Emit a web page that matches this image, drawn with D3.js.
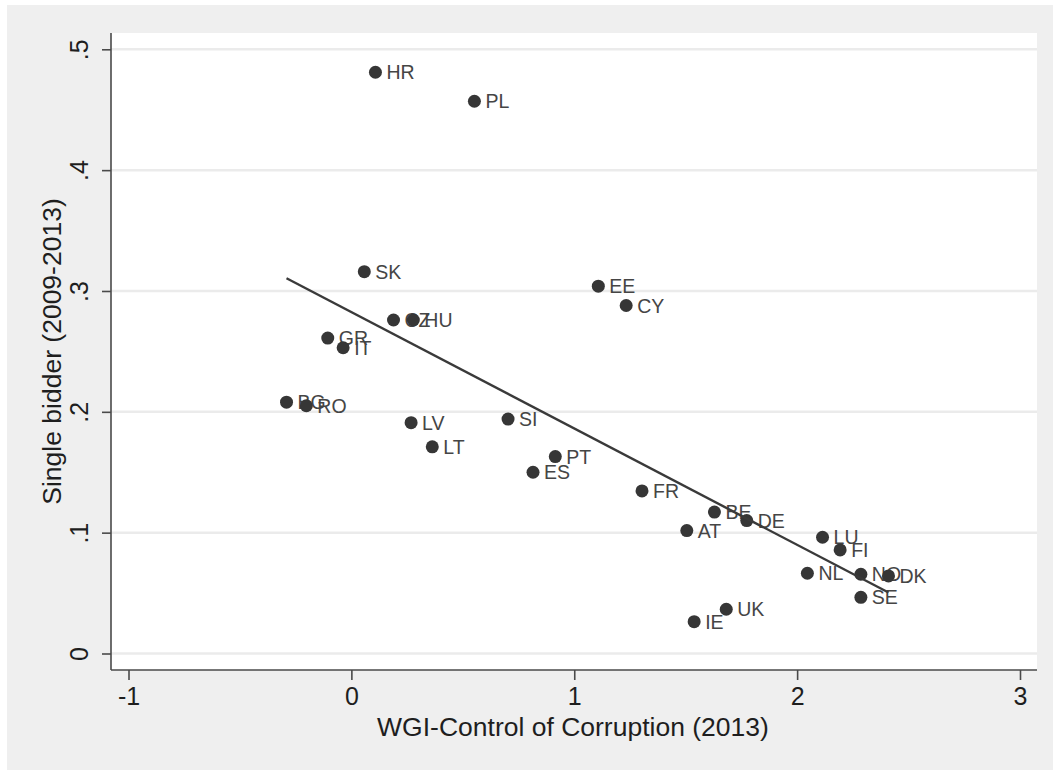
<!DOCTYPE html>
<html>
<head>
<meta charset="utf-8">
<script src="https://cdn.jsdelivr.net/npm/d3@7"></script>
<style>
  html, body { margin: 0; padding: 0; background: #ffffff; }
  svg { display: block; }
  text { font-family: "Liberation Sans", Arial, sans-serif; }
</style>
</head>
<body>
<svg id="chart" width="1053" height="772"></svg>
<script>
// Country codes, WGI control of corruption (2013) and single-bidder share (2009-2013)
const countries = ["HR","PL","SK","EE","CY","CZ","HU","GR","IT","BG","RO","LV","LT","SI","PT","ES","FR","BE","DE","AT","LU","FI","NL","NO","DK","SE","UK","IE"];
const wgi       = [0.108,0.552,0.058,1.108,1.233,0.189,0.278,-0.106,-0.037,-0.291,-0.202,0.268,0.363,0.703,0.915,0.815,1.304,1.629,1.774,1.505,2.114,2.193,2.046,2.286,2.410,2.286,1.682,1.538];
const single    = [0.481,0.457,0.316,0.304,0.288,0.276,0.276,0.261,0.253,0.208,0.205,0.191,0.171,0.194,0.163,0.150,0.1345,0.117,0.110,0.1017,0.0962,0.0857,0.0664,0.0656,0.0642,0.0465,0.0366,0.0263];

const xTicks = [-1, 0, 1, 2, 3];
const yTicks = [0, 0.1, 0.2, 0.3, 0.4, 0.5];
const yTickLabels = ["0", ".1", ".2", ".3", ".4", ".5"];

const xTitle = "WGI-Control of Corruption (2013)";
const yTitle = "Single bidder (2009-2013)";

const svg = d3.select("#chart");

// outer graph region
svg.append("rect").attr("x", 7).attr("y", 5).attr("width", 1046).attr("height", 765).attr("fill", "#efefef");

const plot = { left: 111, right: 1037, top: 33, bottom: 670 };

svg.append("rect")
  .attr("x", plot.left).attr("y", plot.top)
  .attr("width", plot.right - plot.left).attr("height", plot.bottom - plot.top)
  .attr("fill", "#ffffff");

const x = d3.scaleLinear().domain([-1, 3]).range([128.5, 1020]);
const y = d3.scaleLinear().domain([0, 0.5]).range([653.5, 49.3]);

// horizontal grid lines
svg.append("g").selectAll("line").data(yTicks).join("line")
  .attr("x1", plot.left).attr("x2", plot.right)
  .attr("y1", d => y(d)).attr("y2", d => y(d))
  .attr("stroke", "#ebebeb").attr("stroke-width", 2.5);

// y axis
const yAxis = svg.append("g").attr("transform", `translate(${plot.left},0)`)
  .call(d3.axisLeft(y).tickValues(yTicks).tickFormat((d, i) => yTickLabels[i]).tickSize(9).tickPadding(0));
yAxis.select(".domain").attr("d", `M0,${plot.top}V${plot.bottom}`).attr("stroke", "#4a4a4a").attr("stroke-width", 1.6);
yAxis.selectAll(".tick line").attr("stroke", "#4a4a4a").attr("stroke-width", 1.6);
yAxis.selectAll(".tick text")
  .attr("x", null).attr("dy", null)
  .attr("transform", "translate(-23,0) rotate(-90)")
  .attr("text-anchor", "middle")
  .attr("dy", "0em")
  .attr("font-size", 25).attr("fill", "#1e1e1e");

// x axis
const xAxis = svg.append("g").attr("transform", `translate(0,${plot.bottom})`)
  .call(d3.axisBottom(x).tickValues(xTicks).tickFormat(d3.format("d")).tickSize(10).tickPadding(7));
xAxis.select(".domain").attr("d", `M${plot.left},0H${plot.right}`).attr("stroke", "#4a4a4a").attr("stroke-width", 1.6);
xAxis.selectAll(".tick line").attr("stroke", "#4a4a4a").attr("stroke-width", 1.6);
xAxis.selectAll(".tick text").attr("font-size", 25).attr("fill", "#1e1e1e")
  .text(d => d < 0 ? "-" + Math.abs(d) : d);

// axis titles
svg.append("text")
  .attr("x", (plot.left + plot.right) / 2 - 1).attr("y", 736)
  .attr("text-anchor", "middle").attr("font-size", 26.5).attr("fill", "#1e1e1e")
  .text(xTitle);

svg.append("text")
  .attr("transform", `translate(61,${(plot.top + plot.bottom) / 2}) rotate(-90)`)
  .attr("text-anchor", "middle").attr("font-size", 26.5).attr("fill", "#1e1e1e")
  .text(yTitle);

// linear fit over the observed range
const pts = countries.map((c, i) => ({ c, x: wgi[i], y: single[i] }));
const mx = d3.mean(pts, d => d.x), my = d3.mean(pts, d => d.y);
const slope = d3.sum(pts, d => (d.x - mx) * (d.y - my)) / d3.sum(pts, d => (d.x - mx) ** 2);
const intercept = my - slope * mx;
const [xmin, xmax] = d3.extent(pts, d => d.x);
const fit = [xmin, xmax].map(v => ({ x: v, y: intercept + slope * v }));

// markers and labels
const g = svg.append("g");
pts.forEach(d => {
  g.append("circle").attr("cx", x(d.x)).attr("cy", y(d.y)).attr("r", 6.5).attr("fill", "#363636");
  g.append("text").attr("x", x(d.x) + 11).attr("y", y(d.y)).attr("dy", "0.36em")
    .attr("font-size", 19.5).attr("fill", "#454545").text(d.c);
});

svg.append("path")
  .datum(fit)
  .attr("d", d3.line().x(d => x(d.x)).y(d => y(d.y)))
  .attr("fill", "none").attr("stroke", "#3a3a3a").attr("stroke-width", 2.4);
</script>
</body>
</html>
